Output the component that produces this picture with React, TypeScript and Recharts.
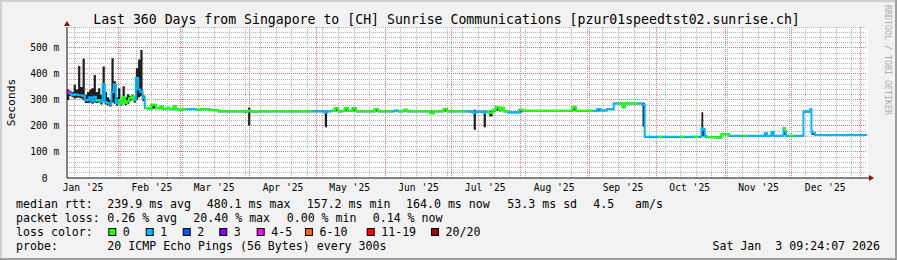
import React from 'react';
import { ComposedChart, Area, Line, XAxis, YAxis, CartesianGrid, ReferenceDot } from 'recharts';

const FONT = "'DejaVu Sans Mono', monospace";

// ---- data: days since start of the 360-day window ----
const pointDays = [
  0, 1, 2, 3, 4, 5, 6, 7, 8, 9, 10, 11, 12, 13, 14, 15, 16, 17, 18, 19,
  20, 21, 22, 23, 24, 25, 26, 27, 28, 29, 30, 31, 32, 33, 34, 35,
  36, 37, 38, 40, 42, 43, 45, 46, 48, 49, 50, 52, 54, 56, 58, 60, 62, 64, 66, 68, 70, 72, 74, 76, 78, 80,
  81.5, 82.5, 84, 86, 88, 90, 92, 94, 96, 98,
  100, 102, 104, 106, 108, 110, 112, 114, 116, 117,
  119, 120.5, 122, 124, 125, 126.5, 128.5, 130, 132, 134,
  136, 138.5, 140, 142, 144, 146, 147.5, 149, 151.5, 153,
  155, 157, 159, 161, 163.5, 165, 167, 169.5, 171, 173,
  175, 177, 179,
  181, 183, 184, 186, 187.5, 188.5, 190, 191.5, 193, 194.5,
  195.5, 196.5, 198.5, 201, 203.5, 205, 207, 209, 211, 213,
  215, 217, 219, 221, 223, 225, 227.5, 229, 231, 233,
  235, 237, 238.5, 240, 243, 246, 248, 250, 251, 253,
  255, 257, 259,
  260, 262, 264, 266, 268, 270, 272, 274, 276, 278, 280, 282, 284,
  285.5, 286.3, 287, 288, 290, 292, 294.5,
  296, 298, 300, 302, 304, 306, 308, 310, 312, 314,
  315, 317, 318, 320, 322.4, 323, 323.6, 325, 327, 329,
  331.4, 334.4, 335, 335.7, 336.6, 339, 341, 343, 345, 347,
  349, 351, 353, 355, 357, 360,
];

const medianMs = [
  330, 325, 318, 322, 320, 318, 318, 315, 298, 300, 310, 295, 312, 298, 300, 292, 360, 292, 288, 282,
  330, 360, 287, 300, 285, 310, 288, 295, 306, 313, 300, 385, 340, 330, 308, 268,
  268, 266, 281, 268, 277, 266, 270, 264, 277, 264, 262, 264, 264, 264, 262, 264, 264, 262, 260, 256, 256, 256, 256, 256, 256, 255,
  258, 256, 254, 256, 256, 256, 256, 256, 256, 256,
  256, 256, 256, 256, 256, 256, 256, 256, 252, 256,
  258, 268, 256, 258, 268, 258, 268, 256, 256, 256,
  256, 265, 256, 256, 256, 256, 259, 256, 262, 256,
  256, 256, 256, 256, 249, 256, 256, 265, 256, 256,
  256, 256, 256,
  255, 250, 255, 255, 250, 255, 250, 262, 272, 262,
  270, 256, 252, 252, 262, 258, 258, 258, 258, 258,
  258, 258, 258, 258, 258, 258, 272, 258, 258, 258,
  258, 258, 265, 259, 264, 286, 286, 272, 286, 286,
  286, 286, 280,
  158, 158, 158, 158, 158, 158, 158, 158, 158, 158, 158, 158, 158,
  191, 185, 159, 157, 157, 156, 168,
  168, 162, 162, 162, 162, 162, 162, 162, 162, 172,
  162, 178, 162, 162, 191, 180, 162, 162, 162, 162,
  255, 264, 178, 172, 165, 165, 165, 165, 165, 165,
  165, 166, 165, 165, 165, 165,
];

const smokeLowMs = [
  300, 315, 310, 305, 308, 308, 305, 300, 288, 288, 290, 285, 290, 288, 290, 282, 295, 282, 278, 275,
  290, 285, 278, 285, 278, 288, 280, 285, 295, 300, 290, 300, 310, 315, 295, 265,
  265, 263, 266, 265, 265, 263, 265, 261, 263, 261, 259, 261, 261, 261, 259, 261, 261, 259, 257, 253, 253, 253, 253, 253, 253, 252,
  201, 253, 251, 253, 253, 253, 253, 253, 253, 253,
  253, 253, 253, 253, 253, 253, 253, 253, 195, 253,
  255, 256, 253, 255, 256, 255, 256, 253, 253, 253,
  253, 255, 253, 253, 253, 253, 255, 253, 255, 253,
  253, 253, 253, 253, 246, 253, 253, 255, 253, 253,
  253, 253, 253,
  252, 185, 252, 252, 195, 252, 236, 255, 258, 255,
  258, 253, 249, 249, 252, 255, 255, 255, 255, 255,
  255, 255, 255, 255, 255, 255, 258, 255, 255, 255,
  255, 255, 256, 256, 261, 283, 283, 268, 283, 283,
  283, 283, 197,
  155, 155, 155, 155, 155, 155, 155, 155, 155, 155, 155, 155, 155,
  160, 160, 156, 154, 154, 153, 165,
  165, 159, 159, 159, 159, 159, 159, 159, 159, 160,
  159, 162, 159, 159, 165, 165, 159, 159, 159, 159,
  252, 255, 165, 165, 162, 162, 162, 162, 162, 162,
  162, 162, 162, 162, 162, 162,
];

const smokeHighMs = [
  340, 335, 330, 358, 340, 430, 350, 458, 320, 330, 340, 345, 396, 330, 345, 320, 428, 330, 310, 300,
  460, 372, 310, 345, 300, 352, 310, 322, 315, 320, 312, 422, 455, 492, 318, 272,
  271, 269, 284, 271, 280, 269, 273, 267, 280, 267, 265, 267, 267, 267, 265, 267, 267, 265, 263, 259, 259, 259, 259, 259, 259, 258,
  270, 259, 257, 259, 259, 259, 259, 259, 259, 259,
  259, 259, 259, 259, 259, 259, 259, 259, 258, 259,
  261, 271, 259, 261, 271, 261, 271, 259, 259, 259,
  259, 268, 259, 259, 259, 259, 262, 259, 265, 259,
  259, 259, 259, 259, 256, 259, 259, 268, 259, 259,
  259, 259, 259,
  258, 262, 258, 258, 258, 258, 258, 265, 275, 265,
  272, 259, 255, 255, 265, 261, 261, 261, 261, 261,
  261, 261, 261, 261, 261, 261, 275, 261, 261, 261,
  261, 261, 268, 262, 267, 289, 289, 289, 289, 289,
  289, 289, 289,
  161, 161, 161, 161, 161, 161, 161, 161, 161, 161, 161, 161, 161,
  253, 192, 162, 160, 160, 159, 171,
  171, 165, 165, 165, 165, 165, 165, 165, 165, 175,
  165, 180, 165, 165, 195, 183, 165, 165, 165, 165,
  258, 266, 180, 175, 168, 168, 168, 168, 168, 168,
  168, 169, 168, 168, 168, 168,
];

// index into lossLabels / lossColors
const lossBucket = [
  4, 1, 1, 1, 1, 1, 1, 1, 1, 1, 1, 1, 1, 0, 1, 1, 1, 1, 1, 1,
  1, 1, 1, 0, 1, 0, 1, 0, 0, 0, 1, 1, 1, 1, 1, 0,
  1, 0, 1, 0, 1, 0, 1, 0, 1, 0, 1, 0, 1, 1, 0, 1, 0, 1, 0, 0, 1, 0, 0, 1, 0, 0,
  1, 0, 0, 0, 0, 1, 0, 0, 0, 0,
  1, 0, 0, 0, 0, 1, 1, 1, 1, 1,
  0, 1, 0, 0, 1, 0, 1, 0, 0, 0,
  0, 1, 0, 0, 0, 1, 1, 0, 1, 0,
  1, 0, 0, 0, 1, 0, 0, 1, 0, 0,
  1, 0, 1,
  1, 1, 1, 1, 1, 0, 1, 0, 1, 0,
  1, 0, 1, 1, 0, 0, 0, 1, 0, 0,
  0, 0, 1, 0, 0, 0, 1, 0, 1, 0,
  0, 1, 1, 1, 1, 1, 0, 1, 0, 1,
  0, 1, 1,
  1, 1, 1, 0, 1, 1, 1, 1, 0, 1, 1, 0, 1,
  1, 1, 1, 0, 0, 0, 1,
  0, 1, 1, 1, 0, 1, 1, 1, 1, 1,
  1, 1, 1, 1, 0, 1, 1, 0, 1, 1,
  1, 1, 1, 1, 1, 1, 1, 1, 1, 1,
  1, 1, 1, 1, 1, 1,
];

const lossLabels = ['0', '1', '2', '3', '4-5', '6-10', '11-19', '20/20'];
const lossColors = ['#26ff00', '#00b8ff', '#0059ff', '#7e00ff', '#ff00ff', '#ff5e00', '#ff0000', '#a00000'];

// ---- axes ----
const monthStartDays = [23.2, 51.2, 82.2, 112.2, 143.2, 173.2, 204.2, 235.2, 265.2, 296.2, 326.2, 357.2];
const monthLabelDays = [7.2, 38.2, 66.2, 97.2, 127.2, 158.2, 188.2, 219.2, 250.2, 280.2, 311.2, 341.2];
const monthLabels = ["Jan '25", "Feb '25", "Mar '25", "Apr '25", "May '25", "Jun '25", "Jul '25", "Aug '25", "Sep '25", "Oct '25", "Nov '25", "Dec '25"];
const weekDays = Array.from({ length: 51 }, (_, k) => 3.15 + 7 * k);
const yMajorTicks = [0, 100, 200, 300, 400, 500];
const yTickLabels = ['0', '100 m', '200 m', '300 m', '400 m', '500 m'];
const yMinorTicks = Array.from({ length: 29 }, (_, k) => 20 * (k + 1)).filter((v) => v % 100 !== 0);
const yMajorGrid = [100, 200, 300, 400, 500];

const gridH = [...yMinorTicks, ...yMajorGrid];
const gridV = [...weekDays, ...monthStartDays];

// ---- texts ----
const titleText = 'Last 360 Days from Singapore to [CH] Sunrise Communications [pzur01speedtst02.sunrise.ch]';
const rttItems: [number, string][] = [
  [16, 'median rtt:'], [107.3, '239.9 ms avg'], [206.7, '480.1 ms max'], [306.7, '157.2 ms min'],
  [406, '164.0 ms now'], [507.3, '53.3 ms sd'], [593.3, '4.5'], [635, 'am/s'],
];
const lossItems: [number, string][] = [
  [16, 'packet loss:'], [107.3, '0.26 % avg'], [193.3, '20.40 % max'], [286.7, '0.00 % min'], [372.7, '0.14 % now'],
];
const lossSwatchX = [108.3, 145.7, 182.7, 219.3, 256.7, 305, 366.7, 431];
const probeText = '20 ICMP Echo Pings (56 Bytes) every 300s';
const stampText = 'Sat Jan  3 09:24:07 2026';

const overlayBuckets = Array.from(new Set(lossBucket)).filter((b) => b !== 1);

const rows = pointDays.map((d, i) => {
  const row: any = { d, med: medianMs[i], smoke: [smokeLowMs[i], smokeHighMs[i]] };
  overlayBuckets.forEach((b) => {
    row['b' + b] = lossBucket[i] === b || (i > 0 && lossBucket[i - 1] === b) ? medianMs[i] : null;
  });
  return row;
});

const MINOR = '#b4b4b4';
const MAJOR = '#ee7070';

const lineIndex = (p: any): number => {
  if (typeof p.index === 'number') return p.index;
  const m = String(p.key ?? '').match(/(\d+)$/);
  return m ? Number(m[1]) : 0;
};

const renderH = (p: any) => {
  const i = lineIndex(p);
  const major = i >= yMinorTicks.length;
  return (
    <line key={'h' + i} x1={p.x1} y1={p.y1} x2={p.x2} y2={p.y2} stroke={major ? MAJOR : MINOR} strokeWidth={1} strokeDasharray="1 1" shapeRendering="crispEdges" />
  );
};

const renderV = (p: any) => {
  const i = lineIndex(p);
  const major = i >= weekDays.length;
  return (
    <line key={'v' + i} x1={p.x1} y1={p.y1} x2={p.x2} y2={p.y2} stroke={major ? MAJOR : MINOR} strokeWidth={1} strokeDasharray="1 1" shapeRendering="crispEdges" />
  );
};

const XTick = (props: any) => {
  const { x, y, index } = props;
  return (
    <text x={x} y={y + 12.5} textAnchor="middle" fontFamily={FONT} fontSize={9.67} fill="#000">
      {monthLabels[index]}
    </text>
  );
};

const YTick = (props: any) => {
  const { x, y, index } = props;
  const label = yTickLabels[index];
  const shown = label.includes(' ') ? label : label + '  ';
  return (
    <text x={x - 7.7} y={y + 3.5} textAnchor="end" fontFamily={FONT} fontSize={9.67} fill="#000" style={{ whiteSpace: 'pre' }}>
      {shown}
    </text>
  );
};

const XArrow = (p: any) => (
  <g>
    <line x1={p.cx} y1={p.cy} x2={p.cx + 3} y2={p.cy} stroke="#101010" strokeWidth={1} />
    <polygon points={`${p.cx + 2},${p.cy - 3} ${p.cx + 7},${p.cy} ${p.cx + 2},${p.cy + 3}`} fill="#8b1010" />
  </g>
);

const YArrow = (p: any) => (
  <g>
    <polygon points={`${p.cx - 3},${p.cy - 1} ${p.cx},${p.cy - 6} ${p.cx + 3},${p.cy - 1}`} fill="#8b1010" />
  </g>
);

const txt = { fontFamily: FONT, fontSize: 11.6, fill: '#000' } as const;

export default function App() {
  return (
    <div style={{ position: 'absolute', left: 0, top: 0, width: 897, height: 260, background: '#f2f2f2', overflow: 'hidden' }}>
      <svg width={897} height={260} style={{ position: 'absolute', left: 0, top: 0 }}>
        <rect x={67} y={27} width={801} height={151} fill="#ffffff" />
        <line x1={0} y1={1} x2={897} y2={1} stroke="#cfcfcf" strokeWidth={2} />
        <line x1={1} y1={0} x2={1} y2={260} stroke="#cfcfcf" strokeWidth={2} />
        <line x1={0} y1={259} x2={897} y2={259} stroke="#9e9e9e" strokeWidth={2} />
        <line x1={896} y1={0} x2={896} y2={260} stroke="#9e9e9e" strokeWidth={2} />
        <text x={446.5} y={24} textAnchor="middle" fontFamily={FONT} fontSize={13.2} fill="#000">{titleText}</text>
        <text transform="translate(15,102.5) rotate(-90)" textAnchor="middle" fontFamily={FONT} fontSize={11.3} fill="#000">Seconds</text>
        <text transform="translate(884.5,5) rotate(90)" fontFamily={FONT} fontSize={8.3} fill="#ababab">RRDTOOL / TOBI OETIKER</text>
        {rttItems.map(([x, s], i) => (
          <text key={'r' + i} x={x} y={207.5} {...txt}>{s}</text>
        ))}
        {lossItems.map(([x, s], i) => (
          <text key={'l' + i} x={x} y={221.5} {...txt}>{s}</text>
        ))}
        <text x={16} y={235.5} {...txt}>loss color:</text>
        {lossLabels.map((s, i) => (
          <g key={'s' + i}>
            <rect x={lossSwatchX[i] + 0.5} y={228.5} width={7} height={7} fill={lossColors[i]} stroke="#000" strokeWidth={1} />
            <text x={lossSwatchX[i] + 14.5} y={235.5} {...txt}>{s}</text>
          </g>
        ))}
        <text x={16} y={249.5} {...txt}>probe:</text>
        <text x={107.3} y={249.5} {...txt}>{probeText}</text>
        <text x={880} y={249.5} textAnchor="end" {...txt} style={{ whiteSpace: 'pre' }}>{stampText}</text>
      </svg>
      <div style={{ position: 'absolute', left: 0, top: 0 }}>
        <ComposedChart width={897} height={260} data={rows} margin={{ top: 27, right: 30, bottom: 52, left: 7 }}>
          <CartesianGrid
            horizontalValues={gridH}
            verticalValues={gridV}
            horizontal={renderH}
            vertical={renderV}
            stroke={MINOR}
          />
          <XAxis
            dataKey="d"
            type="number"
            domain={[0, 360]}
            ticks={monthLabelDays}
            interval={0}
            tickLine={false}
            tickSize={0}
            tickMargin={0}
            tick={<XTick />}
            axisLine={{ stroke: '#101010' }}
            allowDataOverflow
          />
          <YAxis
            type="number"
            domain={[0, 580]}
            ticks={yMajorTicks}
            interval={0}
            width={60}
            tickLine={false}
            tickSize={0}
            tickMargin={0}
            tick={<YTick />}
            axisLine={{ stroke: '#101010' }}
            allowDataOverflow
          />
          <Area dataKey="smoke" type="stepAfter" fill="#1e1e1e" fillOpacity={1} stroke="none" isAnimationActive={false} activeDot={false} />
          <Line dataKey="med" type="stepAfter" stroke={lossColors[1]} strokeWidth={2} dot={false} activeDot={false} isAnimationActive={false} />
          {overlayBuckets.map((b) => (
            <Line key={b} dataKey={'b' + b} type="stepAfter" stroke={lossColors[b]} strokeWidth={2} dot={false} activeDot={false} connectNulls={false} isAnimationActive={false} />
          ))}
          <ReferenceDot x={360} y={0} r={0} ifOverflow="visible" shape={XArrow} />
          <ReferenceDot x={0} y={580} r={0} ifOverflow="visible" shape={YArrow} />
        </ComposedChart>
      </div>
    </div>
  );
}
